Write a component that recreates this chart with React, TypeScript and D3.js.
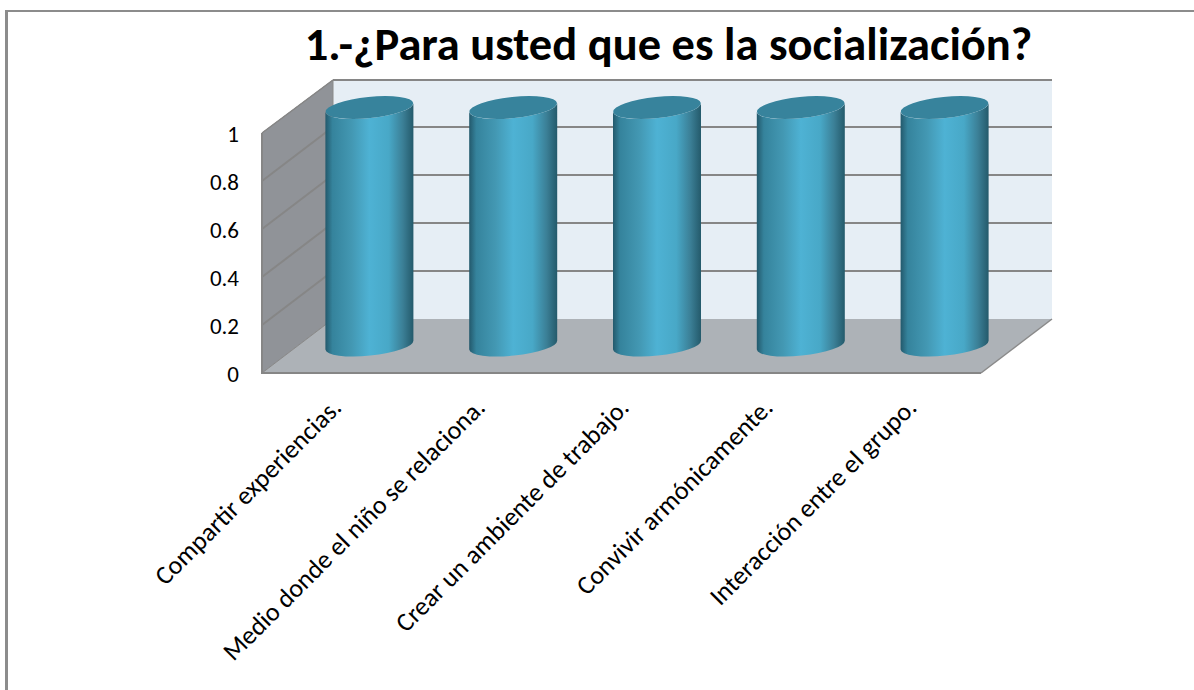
import React from "react";
import * as d3 from "d3";

const categories = [
  "Compartir experiencias.",
  "Medio donde el niño se relaciona.",
  "Crear un ambiente de trabajo.",
  "Convivir armónicamente.",
  "Interacción entre el grupo.",
];
const values = [1, 1, 1, 1, 1];
const yTicks = [0, 0.2, 0.4, 0.6, 0.8, 1];
const titleText = "1.-¿Para usted que es la socialización?";

const W = 1194, H = 690;
const FONT = "Carlito, Calibri, 'Open Sans', 'Noto Sans', sans-serif";
const dx = 71, dy = -54;
const y = d3.scaleLinear().domain([0, 1]).range([373, 133]);
const x = d3.scaleBand<string>().domain(categories).range([262, 981]);
const barW = 88;
const ry = 10.6, tilt = -5.8;

export default function App() {
  const x0 = 262, x1 = 981, yBase = y(0), yTop = y(1);
  const backTop = yTop + dy + 1;
  const rx = barW / 2;
  const slant = Math.sin((-tilt * Math.PI) / 180) * rx;
  const line = d3.line();
  return (
    <svg width={W} height={H} style={{ position: "absolute", left: 0, top: 0, background: "#fff" }}>
      <defs>
        <linearGradient id="cyl" x1="0" x2="1" y1="0" y2="0">
          <stop offset="0" stopColor="#23596c" />
          <stop offset="0.08" stopColor="#35839c" />
          <stop offset="0.3" stopColor="#4398b3" />
          <stop offset="0.5" stopColor="#4eb2d4" />
          <stop offset="0.72" stopColor="#48a8c7" />
          <stop offset="0.88" stopColor="#3b7f96" />
          <stop offset="1" stopColor="#245a6b" />
        </linearGradient>
      </defs>
      <path d="M6.5 690V11" fill="none" stroke="#8c8c8c" strokeWidth={3} />
      <path d="M5 11H1194" fill="none" stroke="#8c8c8c" strokeWidth={2} />
      {/* back wall */}
      <path d={line([[x0 + dx, backTop], [x1 + dx, backTop], [x1 + dx, yBase + dy], [x0 + dx, yBase + dy]])!} fill="#e6eef5" />
      <path d={line([[x0 + dx, backTop], [x1 + dx, backTop]])!} stroke="#868686" strokeWidth={2} fill="none" />
      {/* side wall */}
      <path d={line([[x0, yTop], [x0 + dx, backTop], [x0 + dx, yBase + dy], [x0, yBase]])! + "Z"} fill="#909398" stroke="#8a8a8a" strokeWidth={1} />
      {/* floor */}
      <path d={line([[x0, yBase], [x0 + dx, yBase + dy], [x1 + dx, yBase + dy], [x1, yBase]])! + "Z"} fill="#adb2b7" />
      <path d={line([[x0, yBase], [x0 + dx, yBase + dy]])!} stroke="#8a8a8a" strokeWidth={1} fill="none" />
      <path d={line([[x1, yBase], [x1 + dx, yBase + dy]])!} stroke="#8a8a8a" strokeWidth={1.5} fill="none" />
      {/* gridlines */}
      {yTicks.filter((t) => t > 0 && t < 1).map((t) => (
        <path
          key={t}
          d={line([[x0, y(t)], [x0 + dx, y(t) + dy], [x1 + dx, y(t) + dy]])!}
          fill="none"
          stroke="#868686"
          strokeWidth={2}
        />
      ))}
      <path d={line([[x0, yTop], [x0 + dx, backTop]])!} fill="none" stroke="#868686" strokeWidth={1.5} />
      <path d={line([[x0, yTop], [x0, yBase], [x1, yBase]])!} fill="none" stroke="#868686" strokeWidth={2} />
      {/* cylinders */}
      {categories.map((c, i) => {
        const cx = x(c)! + x.bandwidth() / 2 + dx / 2;
        const b = y(0) + dy / 2 - 1;
        const t = y(values[i]) + dy / 2 + 1.5;
        const l = cx - rx, r = cx + rx;
        const body =
          `M${l},${t + slant} L${l},${b + slant} ` +
          `A${rx},${ry} ${tilt} 0 0 ${r},${b - slant} ` +
          `L${r},${t - slant} A${rx},${ry} ${tilt} 0 1 ${l},${t + slant} Z`;
        return (
          <g key={c}>
            <path d={body} fill="url(#cyl)" />
            <ellipse cx={cx} cy={t} rx={rx} ry={ry} transform={`rotate(${tilt} ${cx} ${t})`} fill="#37839c" />
          </g>
        );
      })}
      {/* y labels */}
      {yTicks.map((t) => (
        <text key={t} x={239} y={y(t)} dy="0.37em" textAnchor="end" fontFamily={FONT} fontSize={23} fill="#000">
          {String(t)}
        </text>
      ))}
      {/* x labels */}
      {categories.map((c) => {
        const px = x(c)! + x.bandwidth() / 2 + 9;
        const py = 409;
        return (
          <text key={c} transform={`translate(${px},${py}) rotate(-45)`} textAnchor="end" fontFamily={FONT} fontSize={26} fill="#000">
            {c}
          </text>
        );
      })}
      <text x={668.5} y={60} textAnchor="middle" fontFamily={FONT} fontWeight="bold" fontSize={46.5} fill="#000">
        {titleText}
      </text>
    </svg>
  );
}
